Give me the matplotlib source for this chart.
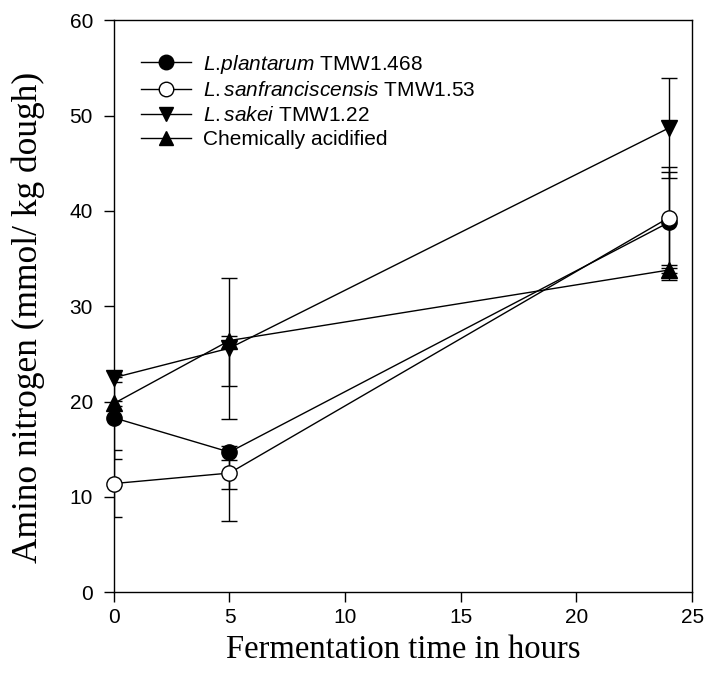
import matplotlib
matplotlib.use("Agg")
import matplotlib.pyplot as plt

plt.rcParams['font.family'] = ['Liberation Sans', 'DejaVu Sans']
plt.rcParams['mathtext.fontset'] = 'custom'
plt.rcParams['mathtext.rm'] = 'Liberation Sans'
plt.rcParams['mathtext.it'] = 'Liberation Sans:italic'

# --- DATA ---
hours = [0, 5, 24]

plantarum = [18.3, 14.7, 38.8]
plantarum_lo = [4.3, 3.9, 5.3]
plantarum_hi = [4.3, 0.6, 5.3]

sanfran = [11.4, 12.5, 39.3]
sanfran_lo = [3.5, 5.0, 5.3]
sanfran_hi = [3.5, 1.4, 5.3]

sakei = [22.5, 25.6, 48.7]
sakei_lo = [0.4, 7.4, 5.2]
sakei_hi = [0.4, 7.4, 5.2]

chem = [19.8, 26.4, 33.8]
chem_lo = [0.3, 4.8, 1.1]
chem_hi = [0.3, 0.5, 0.5]

# mathtext pads a "." with space, \! pulls it back
labels = [r"$\it{L.\!plantarum}$ TMW1.468",
          r"$\it{L.sanfranciscensis}$ TMW1.53",
          r"$\it{L.sakei}$ TMW1.22",
          "Chemically acidified"]

# --- PLOT ---
fig = plt.figure(figsize=(7.07, 6.73), dpi=100)
ax = fig.add_axes([0.161, 0.120, 0.818, 0.850])

series = [
    (plantarum, plantarum_lo, plantarum_hi, 'o', 'black'),
    (sanfran, sanfran_lo, sanfran_hi, 'o', 'white'),
    (sakei, sakei_lo, sakei_hi, 'v', 'black'),
    (chem, chem_lo, chem_hi, '^', 'black'),
]

for (vals, lo, hi, mk, fc), lab in zip(series, labels):
    ax.errorbar(hours, vals, yerr=[lo, hi], fmt='none', ecolor='black',
                elinewidth=1.0, capsize=6, capthick=1.0, zorder=2)
    ax.plot(hours, vals, color='black', lw=1.0, marker=mk, ms=11,
            mfc=fc, mec='black', mew=1.0, label=lab, zorder=3, clip_on=False)

ax.set_xlim(0, 25)
ax.set_ylim(0, 60)
ax.set_xticks([0, 5, 10, 15, 20, 25])
ax.set_yticks([0, 10, 20, 30, 40, 50, 60])
ax.tick_params(direction='out', length=7, width=1.0, labelsize=15)
ax.tick_params(axis='x', pad=4)
ax.tick_params(axis='y', pad=8)
for sp in ax.spines.values():
    sp.set_linewidth(1.0)

ax.set_xlabel("Fermentation time in hours", fontsize=23.5,
              family='Liberation Serif', labelpad=6)
ax.set_ylabel("Amino nitrogen (mmol/ kg dough)", fontsize=25.5,
              family='Liberation Serif')
ax.yaxis.set_label_coords(-0.119, 0.48)

ax.legend(loc='upper left', frameon=False, fontsize=15, handlelength=2.4,
          handletextpad=0.6, labelspacing=0.27, borderaxespad=0.0,
          bbox_to_anchor=(0.032, 0.958), markerscale=0.95)

fig.savefig("out.png", dpi=100)
